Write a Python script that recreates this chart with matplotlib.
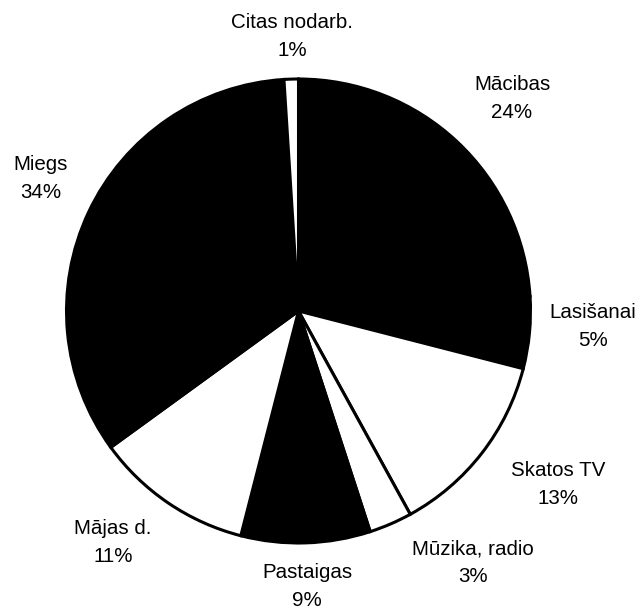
import matplotlib
matplotlib.use("Agg")
import matplotlib.pyplot as plt

# Data (clockwise from 12 o'clock)
categories = ["Mācibas", "Lasišanai", "Skatos TV", "Mūzika, radio",
              "Pastaigas", "Mājas d.", "Miegs", "Citas nodarb."]
values = [24, 5, 13, 3, 9, 11, 34, 1]
colors = ["black", "black", "white", "white", "black", "white", "black", "white"]

# Label block centres in pixel coordinates (layout only)
label_px = [(512, 98), (593, 327), (558, 484), (473, 563),
            (307, 586), (113, 542), (41, 178), (292, 36)]

W, H = 642, 609
CX, CY, R = 298.5, 311.0, 232.0

plt.rcParams['font.family'] = ['Liberation Sans', 'DejaVu Sans']

fig = plt.figure(figsize=(W / 100, H / 100), dpi=100)
ax = fig.add_axes([0, 0, 1, 1])
ax.pie(values, colors=colors, startangle=90, counterclock=False,
       wedgeprops=dict(edgecolor="black", linewidth=2.2, joinstyle="miter"))
ax.set_aspect("auto")
ax.set_xlim((0 - CX) / R, (W - CX) / R)
ax.set_ylim((CY - H) / R, CY / R)
ax.axis("off")


def to_data(px, py):
    return (px - CX) / R, (CY - py) / R


for name, val, (px, py) in zip(categories, values, label_px):
    x1, y1 = to_data(px, py - 14)
    x2, y2 = to_data(px, py + 14)
    ax.text(x1, y1, name, ha="center", va="center", fontsize=14.8, color="black")
    ax.text(x2, y2, f"{val}%", ha="center", va="center", fontsize=14.8, color="black")

fig.savefig("out.png", dpi=100, facecolor="white")
